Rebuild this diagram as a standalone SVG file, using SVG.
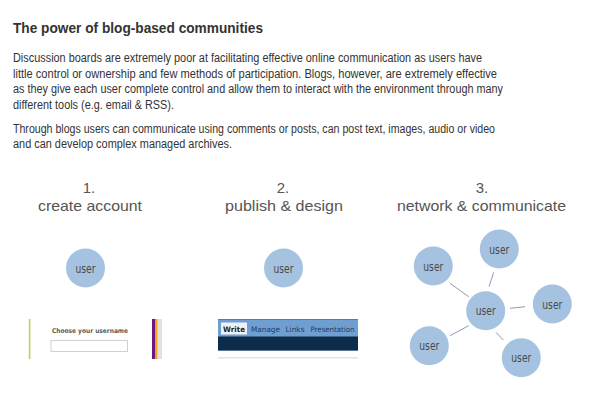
<svg xmlns="http://www.w3.org/2000/svg" width="600" height="400" viewBox="0 0 600 400">
<style>
.title{font-family:"Liberation Sans",Arial,sans-serif;font-weight:bold;font-size:15.5px;fill:#333}
.body{font-family:"Liberation Sans",Arial,sans-serif;font-size:12px;fill:#333}
.step{font-family:"Liberation Sans",Arial,sans-serif;font-size:15px;fill:#555;text-anchor:middle}
.node circle{fill:#a5c3e0}
.node text{font-family:"DejaVu Sans Condensed","Liberation Sans Narrow","Liberation Sans",sans-serif;font-size:12.5px;fill:#4a4a4a;text-anchor:middle;dominant-baseline:central}
.edge{stroke:#8d9bb6;stroke-width:1}
.tab{font-family:"DejaVu Sans","Liberation Sans",sans-serif;font-size:7.5px;fill:#1f3d66}
</style>
<rect width="600" height="400" fill="#fff"/>
<text class="title" x="13" y="33" textLength="250" lengthAdjust="spacingAndGlyphs">The power of blog-based communities</text>
<text class="body" x="13" y="62" textLength="469" lengthAdjust="spacingAndGlyphs">Discussion boards are extremely poor at facilitating effective online communication as users have</text>
<text class="body" x="13" y="77.5" textLength="484" lengthAdjust="spacingAndGlyphs">little control or ownership and few methods of participation. Blogs, however, are extremely effective</text>
<text class="body" x="13" y="93" textLength="490" lengthAdjust="spacingAndGlyphs">as they give each user complete control and allow them to interact with the environment through many</text>
<text class="body" x="13" y="108.5" textLength="161" lengthAdjust="spacingAndGlyphs">different tools (e.g. email &amp; RSS).</text>
<text class="body" x="13" y="132.5" textLength="482" lengthAdjust="spacingAndGlyphs">Through blogs users can communicate using comments or posts, can post text, images, audio or video</text>
<text class="body" x="13" y="147.5" textLength="219" lengthAdjust="spacingAndGlyphs">and can develop complex managed archives.</text>

<g id="step1">
<text class="step" x="89" y="193">1.</text>
<text class="step" x="90" y="211" textLength="104" lengthAdjust="spacingAndGlyphs">create account</text>
</g>
<g id="step2">
<text class="step" x="283" y="193">2.</text>
<text class="step" x="284" y="211" textLength="118" lengthAdjust="spacingAndGlyphs">publish &amp; design</text>
</g>
<g id="step3">
<text class="step" x="482" y="193">3.</text>
<text class="step" x="481.5" y="211" textLength="169" lengthAdjust="spacingAndGlyphs">network &amp; communicate</text>
</g>

<g id="screenshot1">
<rect x="28.8" y="319" width="1.6" height="40" fill="#b6d65a"/>
<text x="90" y="333" font-family="DejaVu Sans,sans-serif" font-weight="bold" font-size="6.5" fill="#5a5a5a" text-anchor="middle" textLength="76" lengthAdjust="spacingAndGlyphs">Choose your username</text>
<rect x="51" y="340.5" width="76.5" height="11" fill="#fff" stroke="#d0d0d0" stroke-width="1"/>
<rect x="152" y="319" width="3" height="40" fill="#6a1a7a"/>
<rect x="155" y="319" width="2.7" height="40" fill="#f7a21b"/>
<rect x="157.7" y="319" width="4.3" height="40" fill="#dfe1e4"/>
</g>

<g id="screenshot2">
<rect x="218" y="319" width="140" height="18" fill="#6f9fd0"/>
<rect x="218" y="319" width="140" height="1" fill="#4f80b5"/>
<rect x="218" y="336.5" width="140" height="13.5" fill="#0c2c4a"/>
<rect x="218" y="350" width="140" height="1" fill="#5a7894"/>
<rect x="218" y="357" width="140" height="1.5" fill="#e4e4e4"/>
<rect x="221" y="322.5" width="26" height="12" fill="#eef2f7"/>
<text x="223" y="332" font-family="DejaVu Sans,sans-serif" font-weight="bold" font-size="7.5" fill="#222" textLength="22" lengthAdjust="spacingAndGlyphs">Write</text>
<text class="tab" x="251" y="332" textLength="29" lengthAdjust="spacingAndGlyphs">Manage</text>
<text class="tab" x="285.5" y="332" textLength="19" lengthAdjust="spacingAndGlyphs">Links</text>
<text class="tab" x="310.5" y="332" textLength="44" lengthAdjust="spacingAndGlyphs">Presentation</text>
</g>

<g id="connectors">
<line class="edge" x1="489" y1="286.7" x2="493.7" y2="272.3"/>
<line class="edge" x1="450" y1="283.3" x2="468.7" y2="296.7"/>
<line class="edge" x1="510" y1="308.3" x2="525" y2="306.7"/>
<line class="edge" x1="450" y1="335.7" x2="468.7" y2="325.7"/>
<line class="edge" x1="496" y1="332.3" x2="503.3" y2="340"/>
</g>

<g id="user1" class="node"><circle cx="85.5" cy="268" r="19.5"/><text x="85.5" y="268" textLength="20" lengthAdjust="spacingAndGlyphs">user</text></g>
<g id="user2" class="node"><circle cx="283.5" cy="268" r="19.5"/><text x="283.5" y="268" textLength="20" lengthAdjust="spacingAndGlyphs">user</text></g>
<g id="user-center" class="node"><circle cx="485.7" cy="310.7" r="19.5"/><text x="485.7" y="310.7" textLength="20" lengthAdjust="spacingAndGlyphs">user</text></g>
<g id="user-top" class="node"><circle cx="499.3" cy="249" r="19.5"/><text x="499.3" y="249" textLength="20" lengthAdjust="spacingAndGlyphs">user</text></g>
<g id="user-upperleft" class="node"><circle cx="433.3" cy="266" r="19.5"/><text x="433.3" y="266" textLength="20" lengthAdjust="spacingAndGlyphs">user</text></g>
<g id="user-right" class="node"><circle cx="552.3" cy="304" r="19.5"/><text x="552.3" y="304" textLength="20" lengthAdjust="spacingAndGlyphs">user</text></g>
<g id="user-lowerleft" class="node"><circle cx="429.3" cy="345.7" r="19.5"/><text x="429.3" y="345.7" textLength="20" lengthAdjust="spacingAndGlyphs">user</text></g>
<g id="user-lowerright" class="node"><circle cx="521.3" cy="357.7" r="19.5"/><text x="521.3" y="357.7" textLength="20" lengthAdjust="spacingAndGlyphs">user</text></g>
</svg>
